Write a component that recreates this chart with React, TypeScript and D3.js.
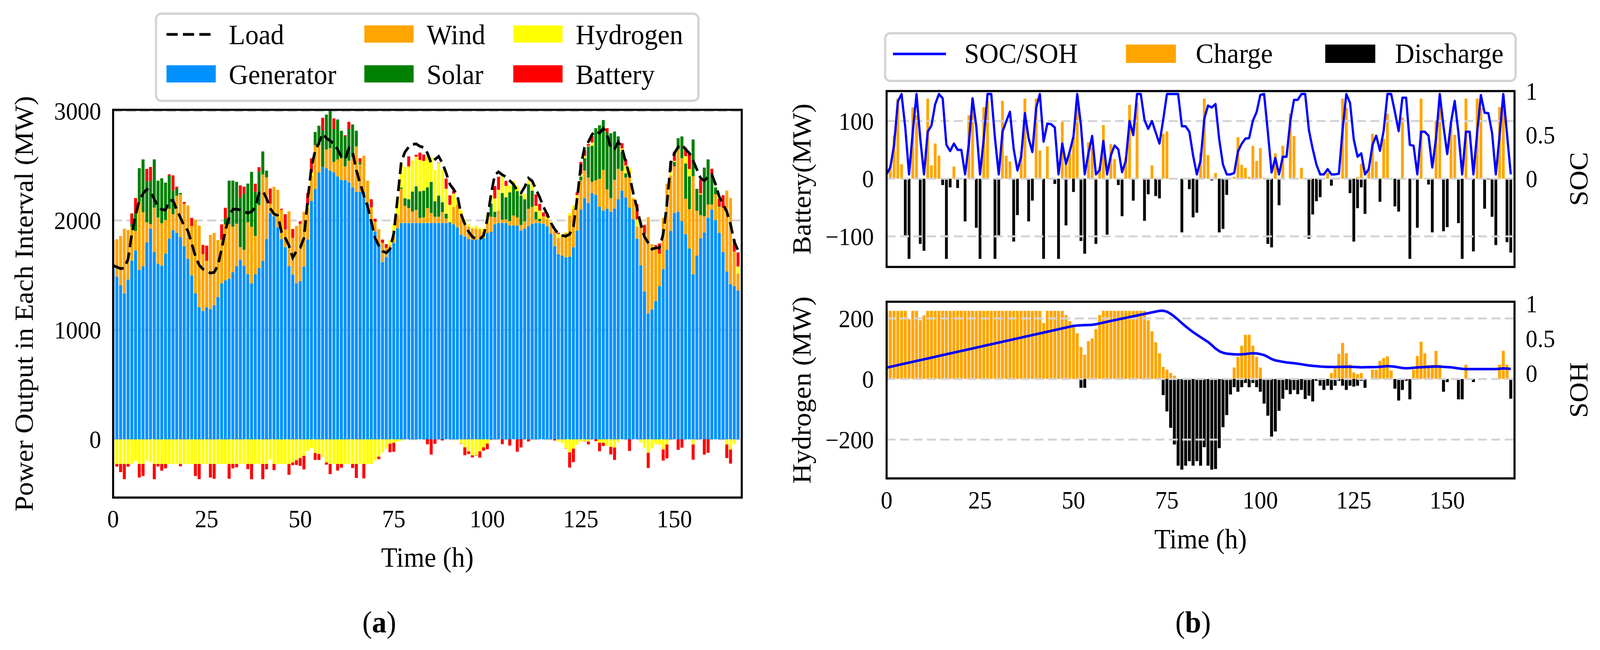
import React from "react";
import * as d3 from "d3";

const FONT = '"Liberation Serif", "Times New Roman", Times, serif';

const hours = d3.range(168);

// ---------- (a) power balance, MW ----------
const generator = [
  1567,1487,1408,1333,1460,1633,1727,1549,1583,1802,
  1925,1711,1606,1588,1697,1834,1913,1886,1847,1765,
  1651,1499,1335,1207,1173,1207,1191,1225,1301,1426,
  1453,1469,1528,1583,1642,1588,1510,1426,1510,1567,
  1631,1829,2068,2039,1938,1829,1756,1583,1506,1426,
  1446,1579,1825,2180,2289,2440,2490,2478,2456,2440,
  2403,2369,2369,2349,2301,2262,2262,2262,2159,1989,
  1900,1780,1620,1665,1738,1795,1930,1977,1977,1977,
  1977,1977,1977,1977,1977,1977,1977,1977,1977,1977,
  1977,1966,1938,1870,1852,1829,1825,1825,1829,1840,
  1886,1897,1966,1977,1977,1977,1954,1954,1954,1909,
  1925,1948,1970,1977,1977,1970,1947,1879,1765,1692,
  1679,1663,1670,1756,1909,2100,2205,2159,2251,2235,
  2125,2091,2109,2080,2109,2193,2273,2212,2118,2011,
  1834,1590,1351,1150,1187,1264,1401,1556,1733,1904,
  2068,2080,1995,1875,1743,1509,1679,1838,1891,2027,
  2100,2005,1886,1711,1534,1419,1401,1362,
];
const wind = [
  251,342,451,592,453,310,177,622,492,182,
  41,407,421,387,308,273,144,340,392,388,
  486,451,670,747,519,424,677,661,521,399,
  512,497,415,387,114,143,474,517,349,574,
  790,565,85,269,340,269,162,501,335,524,
  524,501,289,229,399,248,0,171,205,95,
  155,200,125,197,280,415,251,330,205,132,
  89,140,175,85,34,60,120,313,157,137,
  105,119,46,52,137,91,57,57,100,41,
  0,159,210,198,114,114,100,100,91,57,
  125,137,64,113,30,34,41,91,75,50,
  68,159,155,34,16,59,64,75,137,148,
  173,223,375,347,300,267,251,233,102,132,
  255,371,176,125,262,279,180,180,331,190,
  109,399,524,880,597,501,296,467,602,506,
  426,569,574,323,360,896,410,210,148,119,
  46,234,239,403,739,786,315,153,
];
const solar = [
  0,0,0,0,0,23,162,307,483,374,
  398,440,337,410,341,303,216,68,12,0,
  0,0,0,0,0,0,0,0,0,0,
  53,398,421,383,456,515,353,501,403,308,
  210,62,0,0,0,0,0,0,0,0,
  0,0,0,0,121,178,335,319,339,301,
  365,251,274,290,296,143,18,0,0,0,
  0,0,0,0,0,0,0,10,69,80,
  182,216,244,244,189,285,141,194,90,44,
  7,0,0,0,0,0,0,0,0,0,
  0,120,50,0,244,200,262,280,239,269,
  200,223,148,68,23,0,0,0,0,0,
  0,0,0,0,0,34,113,285,330,476,
  490,456,519,592,442,296,173,39,0,0,
  0,0,0,0,0,0,0,0,0,0,
  41,103,199,323,300,335,200,189,444,412,
  275,62,7,0,0,0,0,0,
];
const load = [
  1590,1574,1560,1565,1647,1880,2050,2180,2245,2285,
  2265,2195,2125,2100,2095,2180,2185,2100,2025,1950,
  1905,1790,1672,1592,1556,1538,1520,1525,1590,1738,
  1910,2035,2103,2103,2096,2080,2068,2080,2120,2250,
  2273,2200,2110,2060,2045,1895,1840,1770,1660,1720,
  1750,1840,2190,2490,2636,2710,2793,2752,2729,2700,
  2650,2581,2558,2661,2626,2460,2340,2230,2130,1990,
  1840,1770,1720,1704,1738,1880,2200,2535,2626,2672,
  2695,2700,2677,2668,2615,2524,2558,2585,2524,2433,
  2330,2285,2228,2057,1966,1897,1852,1829,1829,1863,
  2011,2239,2417,2444,2417,2399,2364,2330,2273,2251,
  2307,2387,2360,2285,2212,2125,2057,1977,1920,1879,
  1863,1856,1875,1943,2200,2500,2668,2718,2786,2820,
  2797,2843,2786,2661,2654,2718,2661,2535,2410,2250,
  2114,1966,1852,1795,1738,1749,1749,1875,2148,2524,
  2615,2672,2695,2650,2615,2547,2467,2387,2364,2399,
  2421,2330,2216,2148,2080,1966,1806,1727,
];

// ---------- (b) battery, MW and SOC ----------
const batteryCharge = [
  0,24,75,139,25,0,0,124,110,0,
  0,139,23,61,40,0,0,0,21,0,
  0,0,110,139,0,0,124,135,0,0,
  0,135,40,30,0,0,47,139,0,0,
  139,49,0,56,0,0,0,99,25,43,
  72,124,0,0,63,54,0,20,93,0,
  60,34,0,0,37,128,0,132,0,0,
  0,23,0,0,78,82,0,0,0,0,
  0,0,0,0,45,139,41,0,10,0,
  0,0,0,3,72,24,19,3,57,31,
  53,2,0,0,44,0,57,0,113,74,
  0,19,0,0,0,0,0,0,10,0,
  0,2,139,123,0,0,3,26,0,16,
  78,30,0,69,113,0,0,0,106,0,
  0,0,0,139,0,0,0,101,127,0,
  0,96,76,0,0,139,0,0,139,123,
  0,0,0,0,124,129,0,0,
];
const batteryDischarge = [
  0,0,0,0,0,98,139,0,0,113,
  125,0,0,0,0,11,139,15,0,16,
  0,74,0,0,85,139,0,0,0,139,
  98,0,0,0,109,63,0,0,74,38,
  0,0,139,0,1,9,139,0,81,0,
  23,0,108,130,0,0,113,0,0,97,
  0,0,11,65,0,0,38,0,0,73,
  27,0,30,34,0,0,0,0,0,93,
  0,18,67,59,0,0,0,3,0,93,
  87,28,0,0,0,0,0,0,0,0,
  0,0,113,119,0,46,0,0,0,0,
  0,0,0,104,62,39,32,0,0,12,
  0,0,0,0,25,109,51,15,61,0,
  0,0,40,0,0,0,48,57,0,0,
  139,2,85,0,0,10,93,0,0,91,
  84,0,0,77,139,0,0,126,0,0,
  52,1,66,115,0,0,110,128,
];
const soc = [
  0.048,0.13,0.385,0.88,0.966,0.58,0.048,0.535,0.966,0.46,
  0.048,0.535,0.607,0.85,0.966,0.917,0.385,0.315,0.4,0.328,
  0.328,0.048,0.397,0.917,0.595,0.048,0.46,0.966,0.966,0.46,
  0.048,0.535,0.652,0.763,0.34,0.093,0.25,0.748,0.46,0.303,
  0.805,0.966,0.422,0.628,0.622,0.583,0.048,0.4,0.168,0.31,
  0.482,0.966,0.61,0.048,0.288,0.487,0.048,0.097,0.43,0.048,
  0.265,0.378,0.333,0.073,0.205,0.658,0.497,0.966,0.966,0.67,
  0.568,0.658,0.527,0.4,0.67,0.966,0.966,0.966,0.966,0.598,
  0.598,0.535,0.265,0.048,0.205,0.685,0.834,0.812,0.852,0.445,
  0.16,0.048,0.048,0.063,0.31,0.397,0.457,0.463,0.662,0.76,
  0.957,0.966,0.535,0.07,0.235,0.048,0.25,0.25,0.655,0.9,
  0.9,0.966,0.966,0.55,0.34,0.16,0.048,0.048,0.108,0.048,
  0.048,0.055,0.557,0.966,0.864,0.445,0.25,0.288,0.048,0.108,
  0.385,0.49,0.318,0.55,0.966,0.966,0.76,0.542,0.924,0.924,
  0.385,0.375,0.048,0.535,0.535,0.49,0.127,0.46,0.966,0.595,
  0.28,0.64,0.887,0.52,0.048,0.535,0.535,0.048,0.52,0.954,
  0.752,0.748,0.52,0.048,0.49,0.966,0.505,0.048,
];

// ---------- (b) hydrogen, MW and SOH ----------
const hydrogenCharge = [
  225,225,225,225,225,225,197,225,225,194,
  210,225,225,225,225,225,225,225,225,225,
  225,225,225,225,225,225,225,225,225,225,
  225,225,225,225,225,225,225,225,225,225,
  225,225,185,225,225,225,225,225,211,191,
  171,151,106,80,125,134,165,211,225,225,
  225,225,225,225,225,225,225,225,225,225,
  194,158,121,85,40,31,20,11,0,0,
  0,0,0,0,0,0,0,0,0,0,
  0,0,0,38,73,110,146,146,110,73,
  38,0,0,0,0,0,0,0,0,0,
  0,0,0,0,0,0,0,0,0,20,
  34,83,119,85,48,22,16,20,0,0,
  31,31,60,69,75,28,0,0,0,0,
  0,31,76,123,85,46,47,93,47,0,
  0,0,0,0,0,47,0,0,0,0,
  0,0,0,0,47,93,47,0,
];
const hydrogenDischarge = [
  0,0,0,0,0,0,0,0,0,0,
  0,0,0,0,0,0,0,0,0,0,
  0,0,0,0,0,0,0,0,0,0,
  0,0,0,0,0,0,0,0,0,0,
  0,0,0,0,0,0,0,0,0,0,
  0,0,29,29,0,0,0,0,0,0,
  0,0,0,0,0,0,0,0,0,0,
  0,0,0,0,53,107,161,216,286,299,
  286,271,286,271,286,225,286,299,297,228,
  159,119,51,27,42,27,13,27,13,27,
  42,81,121,190,173,105,65,36,50,36,
  50,36,66,55,74,6,22,36,22,36,
  22,6,22,36,22,25,22,6,29,0,
  0,0,0,0,0,0,32,71,36,6,
  67,1,0,0,0,0,0,0,0,42,
  10,0,0,67,67,0,0,10,0,0,
  0,0,0,2,0,0,0,65,
];
const soh = [
  0.081,0.093,0.105,0.117,0.129,0.141,0.153,0.165,0.177,0.189,
  0.201,0.213,0.225,0.237,0.249,0.261,0.273,0.285,0.297,0.309,
  0.321,0.333,0.345,0.357,0.369,0.381,0.393,0.405,0.417,0.429,
  0.441,0.453,0.465,0.477,0.489,0.501,0.513,0.525,0.537,0.549,
  0.561,0.573,0.585,0.597,0.609,0.621,0.633,0.645,0.657,0.669,
  0.681,0.686,0.690,0.692,0.694,0.697,0.705,0.716,0.728,0.740,
  0.752,0.763,0.775,0.786,0.797,0.808,0.819,0.830,0.842,0.853,
  0.864,0.875,0.886,0.897,0.9,0.885,0.855,0.815,0.77,0.72,
  0.675,0.632,0.592,0.555,0.52,0.485,0.45,0.405,0.355,0.318,
  0.295,0.282,0.277,0.273,0.27,0.272,0.277,0.283,0.288,0.285,
  0.275,0.262,0.235,0.205,0.185,0.175,0.165,0.156,0.15,0.145,
  0.138,0.13,0.12,0.112,0.107,0.102,0.097,0.094,0.092,0.091,
  0.09,0.091,0.093,0.094,0.093,0.091,0.088,0.086,0.087,0.088,
  0.089,0.09,0.093,0.098,0.103,0.1,0.094,0.085,0.076,0.071,
  0.074,0.079,0.084,0.087,0.09,0.093,0.096,0.098,0.096,0.092,
  0.089,0.086,0.078,0.07,0.063,0.061,0.06,0.06,0.06,0.06,
  0.06,0.06,0.06,0.06,0.065,0.07,0.068,0.062,
];

// ---------- ticks & labels ----------
const timeTicks = [0, 25, 50, 75, 100, 125, 150];
const powerTicks = [0, 1000, 2000, 3000];
const batteryTicks = [-100, 0, 100];
const hydrogenTicks = [-200, 0, 200];
const fractionTicks = [0, 0.5, 1];

const powerLegend = [
  { label: "Load", kind: "line", color: "#000000" },
  { label: "Generator", kind: "patch", color: "#0091ff" },
  { label: "Wind", kind: "patch", color: "#ffa500" },
  { label: "Solar", kind: "patch", color: "#008000" },
  { label: "Hydrogen", kind: "patch", color: "#ffff00" },
  { label: "Battery", kind: "patch", color: "#ff0000" },
];
const storageLegend = [
  { label: "SOC/SOH", kind: "line", color: "#0000ff" },
  { label: "Charge", kind: "patch", color: "#ffa500" },
  { label: "Discharge", kind: "patch", color: "#000000" },
];

const C = {
  gen: "#0091ff",
  wind: "#ffa500",
  solar: "#008000",
  h2: "#ffff00",
  bat: "#ff0000",
  charge: "#ffa500",
  discharge: "#000000",
  line: "#0000ff",
  grid: "#d3d3d3",
};

const fmt = (v: number) => (v < 0 ? "\u2212" + Math.abs(v) : String(v));

export default function App() {
  // plot frames (design space 4286 x 1663)
  const L = { x0: 303, x1: 1987, y0: 281, y1: 1273 };
  const RT = { x0: 2375, x1: 4057, y0: 233, y1: 683 };
  const RB = { x0: 2375, x1: 4057, y0: 772, y1: 1224 };

  const xL = d3.scaleLinear().domain([0, 168]).range([L.x0, L.x1]);
  const yL = d3.scaleLinear().domain([-532, 3011]).range([L.y1, L.y0]);
  const xR = d3.scaleLinear().domain([0, 168]).range([RT.x0, RT.x1]);
  const yBat = d3.scaleLinear().domain([-153, 152]).range([RT.y1, RT.y0]);
  const ySoc = d3.scaleLinear().domain([-1.01, 1.0]).range([RT.y1, RT.y0]);
  const yH2 = d3.scaleLinear().domain([-328, 255]).range([RB.y1, RB.y0]);
  const ySoh = d3.scaleLinear().domain([-1.511, 1.028]).range([RB.y1, RB.y0]);

  // ---- left stacked bars
  const bw = 0.8;
  const leftBars: any[] = [];
  hours.forEach((i) => {
    let base = 0;
    const pos: [number, string][] = [
      [generator[i], C.gen],
      [wind[i], C.wind],
      [solar[i], C.solar],
      [hydrogenDischarge[i], C.h2],
      [batteryDischarge[i], C.bat],
    ];
    pos.forEach(([v, c], k) => {
      if (v > 0) {
        leftBars.push(
          <rect key={`p${i}-${k}`} x={xL(i - bw / 2)} width={xL(bw) - xL(0)}
            y={yL(base + v)} height={yL(base) - yL(base + v)} fill={c} />
        );
        base += v;
      }
    });
    let nb = 0;
    const neg: [number, string][] = [
      [hydrogenCharge[i], C.h2],
      [batteryCharge[i], C.bat],
    ];
    neg.forEach(([v, c], k) => {
      if (v > 0) {
        leftBars.push(
          <rect key={`n${i}-${k}`} x={xL(i - bw / 2)} width={xL(bw) - xL(0)}
            y={yL(nb)} height={yL(nb - v) - yL(nb)} fill={c} />
        );
        nb -= v;
      }
    });
  });

  const loadLine = d3.line<number>().x((i) => xL(i)).y((i) => yL(load[i]))(hours) || "";

  // ---- right bars
  const rbw = 0.75;
  const batBars: any[] = [];
  const h2Bars: any[] = [];
  hours.forEach((i) => {
    if (batteryCharge[i] > 0)
      batBars.push(<rect key={`bc${i}`} x={xR(i - rbw / 2)} width={xR(rbw) - xR(0)}
        y={yBat(batteryCharge[i])} height={yBat(0) - yBat(batteryCharge[i])} fill={C.charge} />);
    if (batteryDischarge[i] > 0)
      batBars.push(<rect key={`bd${i}`} x={xR(i - rbw / 2)} width={xR(rbw) - xR(0)}
        y={yBat(0)} height={yBat(-batteryDischarge[i]) - yBat(0)} fill={C.discharge} />);
    if (hydrogenCharge[i] > 0)
      h2Bars.push(<rect key={`hc${i}`} x={xR(i - 0.4)} width={xR(0.8) - xR(0)}
        y={yH2(hydrogenCharge[i])} height={yH2(0) - yH2(hydrogenCharge[i])} fill={C.charge} />);
    if (hydrogenDischarge[i] > 0)
      h2Bars.push(<rect key={`hd${i}`} x={xR(i - 0.4)} width={xR(0.8) - xR(0)}
        y={yH2(0)} height={yH2(-hydrogenDischarge[i]) - yH2(0)} fill={C.discharge} />);
  });
  const socLine = d3.line<number>().x((i) => xR(i)).y((i) => ySoc(soc[i]))(hours) || "";
  const sohLine = d3.line<number>().x((i) => xR(i)).y((i) => ySoh(soh[i]))(hours) || "";

  const tickFs = 63;
  const labFs = 71;
  const legFs = 72;

  const gridProps = { stroke: C.grid, strokeWidth: 5, strokeDasharray: "24 12" };

  // left legend layout
  const legL = { x: 418, y: 35, w: 1453, h: 223 };
  const legCols = [446, 976, 1375];
  const legRows = [65, 167];
  const legTextDx = 167;
  const legendItemsL = powerLegend.map((d, k) => {
    const col = Math.floor(k / 2);
    const row = k % 2;
    const x = legCols[col];
    const y = legRows[row];
    return (
      <g key={d.label}>
        {d.kind === "line" ? (
          <line x1={x} x2={x + 131} y1={y + 23} y2={y + 23} stroke={d.color}
            strokeWidth={7} strokeDasharray="30 14" />
        ) : (
          <rect x={x} y={y} width={132} height={44} fill={d.color} />
        )}
        <text x={x + legTextDx} y={y + 48} fontSize={legFs} fontFamily={FONT}>{d.label}</text>
      </g>
    );
  });

  const legR = { x: 2371, y: 85, w: 1689, h: 122 };
  const legRX = [2392, 3016, 3550];
  const legendItemsR = storageLegend.map((d, k) => {
    const x = legRX[k];
    return (
      <g key={d.label}>
        {d.kind === "line" ? (
          <line x1={x} x2={x + 142} y1={138} y2={138} stroke={d.color} strokeWidth={6.5} />
        ) : (
          <rect x={x} y={114} width={134} height={47} fill={d.color} />
        )}
        <text x={k === 0 ? x + 191 : x + 187} y={161} fontSize={legFs} fontFamily={FONT}>{d.label}</text>
      </g>
    );
  });

  return (
    <svg viewBox="0 0 4286 1663" preserveAspectRatio="none"
      style={{ position: "fixed", left: 0, top: 0, width: "100vw", height: "100vh", background: "#ffffff", display: "block" }}
      fontFamily={FONT}>
      <defs>
        <clipPath id="clipL"><rect x={L.x0} y={L.y0} width={L.x1 - L.x0} height={L.y1 - L.y0} /></clipPath>
        <clipPath id="clipRT"><rect x={RT.x0} y={RT.y0} width={RT.x1 - RT.x0} height={RT.y1 - RT.y0} /></clipPath>
        <clipPath id="clipRB"><rect x={RB.x0} y={RB.y0} width={RB.x1 - RB.x0} height={RB.y1 - RB.y0} /></clipPath>
      </defs>
      <rect x={0} y={0} width={4286} height={1663} fill="#ffffff" />

      {/* ================= (a) ================= */}
      <g clipPath="url(#clipL)">
        {powerTicks.map((t) => (
          <line key={`gl${t}`} x1={L.x0} x2={L.x1} y1={yL(t)} y2={yL(t)} {...gridProps} />
        ))}
        {leftBars}
        <path d={loadLine} fill="none" stroke="#000" strokeWidth={7} strokeDasharray="30 14" />
      </g>
      <rect x={L.x0} y={L.y0} width={L.x1 - L.x0} height={L.y1 - L.y0} fill="none" stroke="#000" strokeWidth={5.5} />
      {powerTicks.map((t) => (
        <text key={`tl${t}`} x={271} y={yL(t)} dy="0.35em" textAnchor="end" fontSize={tickFs}>{fmt(t)}</text>
      ))}
      {timeTicks.map((t) => (
        <text key={`txl${t}`} x={xL(t)} y={1349} textAnchor="middle" fontSize={tickFs}>{t}</text>
      ))}
      <text x={(L.x0 + L.x1) / 2} y={1450} textAnchor="middle" fontSize={labFs}>Time (h)</text>
      <text transform={`translate(88,${(L.y0 + L.y1) / 2}) rotate(-90)`} textAnchor="middle" fontSize={labFs}>
        Power Output in Each Interval (MW)
      </text>
      <rect x={legL.x} y={legL.y} width={legL.w} height={legL.h} rx={14} fill="#fff" stroke="#d4d4d4" strokeWidth={6} />
      {legendItemsL}
      <text x={1016} y={1618} textAnchor="middle" fontSize={78}>(<tspan fontWeight="bold">a</tspan>)</text>

      {/* ================= (b) top: battery ================= */}
      <g clipPath="url(#clipRT)">
        {batBars}
        {batteryTicks.map((t) => (
          <line key={`gb${t}`} x1={RT.x0} x2={RT.x1} y1={yBat(t)} y2={yBat(t)} {...gridProps} />
        ))}
        <path d={socLine} fill="none" stroke={C.line} strokeWidth={6} strokeLinejoin="round" />
      </g>
      <rect x={RT.x0} y={RT.y0} width={RT.x1 - RT.x0} height={RT.y1 - RT.y0} fill="none" stroke="#000" strokeWidth={5.5} />
      {batteryTicks.map((t) => (
        <text key={`tb${t}`} x={2341} y={yBat(t)} dy="0.35em" textAnchor="end" fontSize={tickFs}>{fmt(t)}</text>
      ))}
      {fractionTicks.map((t) => (
        <text key={`ts${t}`} x={4087} y={ySoc(t)} dy="0.35em" textAnchor="start" fontSize={tickFs}>{String(t)}</text>
      ))}
      <text transform={`translate(2171,${(RT.y0 + RT.y1) / 2}) rotate(-90)`} textAnchor="middle" fontSize={labFs}>Battery(MW)</text>
      <text transform={`translate(4252,${(RT.y0 + RT.y1) / 2}) rotate(-90)`} textAnchor="middle" fontSize={labFs}>SOC</text>

      {/* ================= (b) bottom: hydrogen ================= */}
      <g clipPath="url(#clipRB)">
        {h2Bars}
        {hydrogenTicks.map((t) => (
          <line key={`gh${t}`} x1={RB.x0} x2={RB.x1} y1={yH2(t)} y2={yH2(t)} {...gridProps} />
        ))}
        <path d={sohLine} fill="none" stroke={C.line} strokeWidth={6.5} strokeLinejoin="round" />
      </g>
      <rect x={RB.x0} y={RB.y0} width={RB.x1 - RB.x0} height={RB.y1 - RB.y0} fill="none" stroke="#000" strokeWidth={5.5} />
      {hydrogenTicks.map((t) => (
        <text key={`th${t}`} x={2341} y={yH2(t)} dy="0.35em" textAnchor="end" fontSize={tickFs}>{fmt(t)}</text>
      ))}
      {fractionTicks.map((t) => (
        <text key={`tsh${t}`} x={4087} y={ySoh(t)} dy="0.35em" textAnchor="start" fontSize={tickFs}>{String(t)}</text>
      ))}
      {timeTicks.map((t) => (
        <text key={`txr${t}`} x={xR(t)} y={1301} textAnchor="middle" fontSize={tickFs}>{t}</text>
      ))}
      <text x={(RB.x0 + RB.x1) / 2} y={1403} textAnchor="middle" fontSize={labFs}>Time (h)</text>
      <text transform={`translate(2171,${(RB.y0 + RB.y1) / 2}) rotate(-90)`} textAnchor="middle" fontSize={labFs}>Hydrogen (MW)</text>
      <text transform={`translate(4252,${(RB.y0 + RB.y1) / 2}) rotate(-90)`} textAnchor="middle" fontSize={labFs}>SOH</text>

      <rect x={legR.x} y={legR.y} width={legR.w} height={legR.h} rx={14} fill="#fff" stroke="#d4d4d4" strokeWidth={6} />
      {legendItemsR}
      <text x={3196} y={1618} textAnchor="middle" fontSize={78}>(<tspan fontWeight="bold">b</tspan>)</text>
    </svg>
  );
}
